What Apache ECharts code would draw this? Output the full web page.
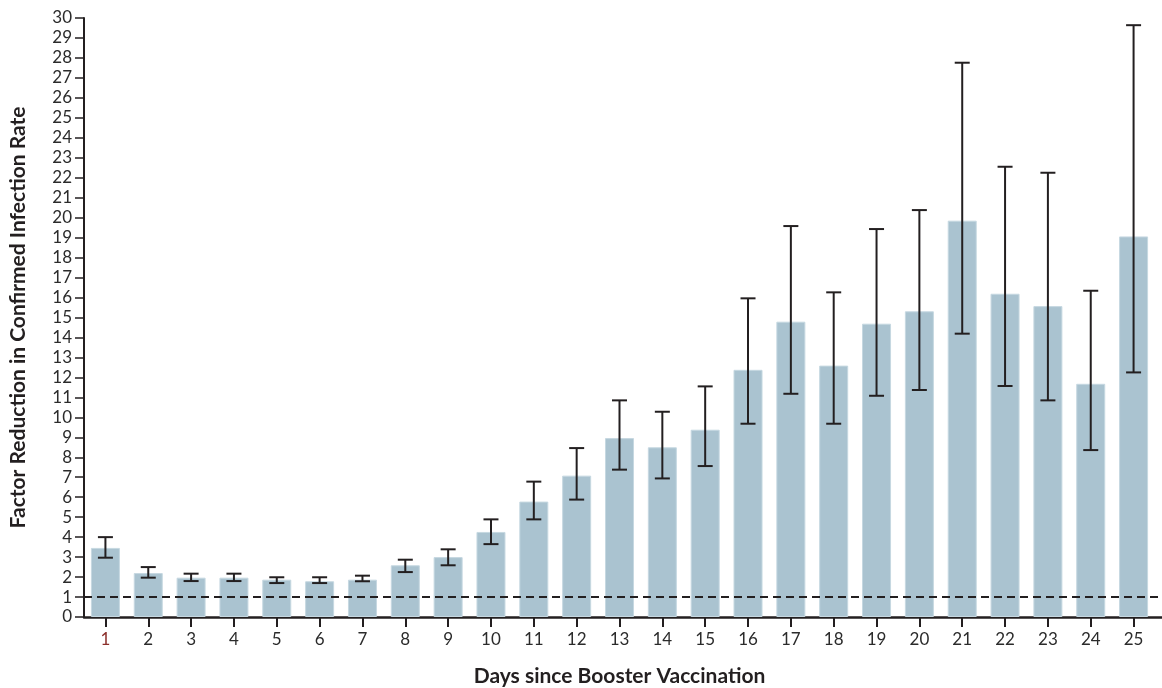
<!DOCTYPE html>
<html>
<head>
<meta charset="utf-8">
<script src="https://cdn.jsdelivr.net/npm/echarts@6/dist/echarts.min.js"></script>
<style>
html,body{margin:0;padding:0;background:#fff;}
#chart{width:1162px;height:688px;}
</style>
</head>
<body>
<div id="chart"></div>
<script>
var days = ['1','2','3','4','5','6','7','8','9','10','11','12','13','14','15','16','17','18','19','20','21','22','23','24','25'];
var factorReduction = [3.46,2.2,1.97,1.97,1.87,1.79,1.87,2.59,3.0,4.26,5.78,7.08,8.96,8.5,9.38,12.38,14.79,12.59,14.69,15.31,19.85,16.19,15.57,11.68,19.06];
var ciLower = [2.97,1.97,1.8,1.8,1.7,1.7,1.79,2.25,2.59,3.65,4.89,5.88,7.38,6.94,7.56,9.68,11.18,9.68,11.08,11.37,14.19,11.57,10.85,8.36,12.25];
var ciUpper = [4.0,2.5,2.17,2.17,1.99,1.99,2.07,2.87,3.39,4.89,6.78,8.46,10.85,10.28,11.55,15.96,19.58,16.26,19.43,20.38,27.76,22.55,22.25,16.34,29.64];
var referenceLevel = 1;
var yMin = 0, yMax = 30, yStep = 1;

var ink = '#231f20';
var fontFam = 'Lato, "Open Sans", sans-serif';

var errData = days.map(function(d, i){ return [i, ciLower[i], ciUpper[i]]; });

var chart = echarts.init(document.getElementById('chart'), null, {renderer:'canvas'});
chart.setOption({
  animation:false,
  backgroundColor:'#ffffff',
  grid:[
    {left:84, right:7, top:18, bottom:71, containLabel:false, outerBoundsMode:'none'},
    {left:84, right:0, top:18, bottom:71, containLabel:false, outerBoundsMode:'none'}
  ],
  xAxis:[
    {
      type:'category', data:days, gridIndex:0,
      name:'Days since Booster Vaccination', nameLocation:'middle', nameGap:49,
      nameTextStyle:{fontFamily:fontFam, fontWeight:'bold', fontSize:21, color:ink},
      axisLine:{show:false},
      axisTick:{show:true, alignWithLabel:true, length:10, lineStyle:{color:ink, width:2}},
      axisLabel:{margin:14, fontFamily:fontFam, fontSize:17,
        color:function(v, i){ return i === 0 ? '#8b2e2a' : '#2b2b2b'; }},
      splitLine:{show:false}
    },
    {
      type:'value', gridIndex:1, min:0, max:1,
      axisLine:{show:true, lineStyle:{color:ink, width:2.5}},
      axisTick:{show:false}, axisLabel:{show:false}, splitLine:{show:false}
    }
  ],
  yAxis:[
    {
      type:'value', gridIndex:0, min:yMin, max:yMax, interval:yStep,
      name:'Factor Reduction in Confirmed Infection Rate', nameLocation:'middle', nameGap:55,
      nameTextStyle:{fontFamily:fontFam, fontWeight:'bold', fontSize:21, color:ink},
      axisLine:{show:true, lineStyle:{color:ink, width:2}},
      axisTick:{show:true, length:9, lineStyle:{color:ink, width:1.5}},
      axisLabel:{margin:12, fontFamily:fontFam, fontSize:17, color:'#2b2b2b'},
      splitLine:{show:false}
    },
    {
      type:'value', gridIndex:1, min:yMin, max:yMax, show:false
    }
  ],
  series:[
    {
      type:'bar', xAxisIndex:0, yAxisIndex:0,
      data:factorReduction, barWidth:29,
      itemStyle:{color:'#aac3d0', borderColor:'#c6d8e1', borderWidth:1},
      z:2
    },
    {
      type:'line', xAxisIndex:1, yAxisIndex:1,
      data:[[0, referenceLevel],[1, referenceLevel]],
      symbol:'none', silent:true,
      lineStyle:{color:ink, width:2, type:[8,5]},
      z:3
    },
    {
      type:'custom', xAxisIndex:0, yAxisIndex:0,
      data:errData, z:4,
      renderItem:function(params, api){
        var x = api.value(0);
        var lo = api.coord([x, api.value(1)]);
        var hi = api.coord([x, api.value(2)]);
        var hw = 7.5;
        var st = {stroke:ink, lineWidth:2};
        return {type:'group', children:[
          {type:'line', shape:{x1:hi[0], y1:hi[1], x2:lo[0], y2:lo[1]}, style:st},
          {type:'line', shape:{x1:hi[0]-hw, y1:hi[1], x2:hi[0]+hw, y2:hi[1]}, style:st},
          {type:'line', shape:{x1:lo[0]-hw, y1:lo[1], x2:lo[0]+hw, y2:lo[1]}, style:st}
        ]};
      }
    }
  ]
});
</script>
</body>
</html>
